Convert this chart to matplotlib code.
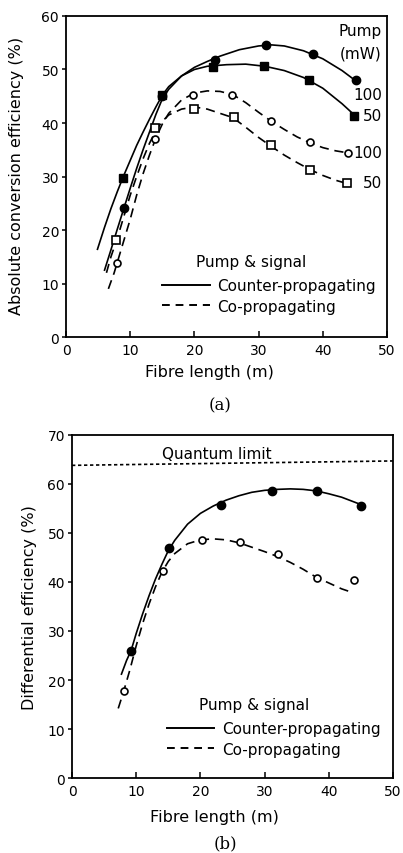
import numpy as np
import matplotlib.pyplot as plt
from matplotlib.lines import Line2D

plt.rcParams['font.family'] = ['DejaVu Sans']

# ---------- panel (a): absolute conversion efficiency ----------
# measured points
cnt100_x = [9.0, 15.0, 23.2, 31.1, 38.4, 45.1]
cnt100_y = [24.1, 45.0, 51.8, 54.6, 52.9, 48.0]
cnt50_x = [8.9, 15.0, 22.9, 30.8, 37.9, 44.9]
cnt50_y = [29.7, 45.3, 50.4, 50.6, 48.1, 41.4]
co100_x = [7.9, 13.9, 19.8, 25.9, 32.0, 38.0, 43.9]
co100_y = [13.8, 37.1, 45.3, 45.2, 40.3, 36.4, 34.4]
co50_x = [7.8, 13.9, 19.9, 26.1, 31.9, 38.0, 43.7]
co50_y = [18.1, 39.0, 42.6, 41.1, 35.8, 31.3, 28.7]

# fitted curves
fit_cnt100_x = [6.0, 7, 8, 9, 10, 11, 12, 13, 14, 15, 16, 18, 20, 22, 24, 27, 30, 32, 34, 37, 40, 43, 45]
fit_cnt100_y = [12.5, 16.3, 20.2, 24.0, 27.8, 31.5, 35.0, 38.3, 41.6, 44.5, 46.3, 48.8, 50.4, 51.5, 52.5,
                53.7, 54.4, 54.6, 54.4, 53.5, 52.0, 49.8, 48.0]
fit_cnt50_x = [4.9, 6, 7, 8, 9, 10, 11, 12, 13, 14, 15, 16, 18, 20, 22, 25, 28, 31, 34, 37, 40, 43, 45]
fit_cnt50_y = [16.4, 20.5, 24.0, 27.2, 30.2, 33.0, 35.8, 38.3, 40.7, 43.0, 45.2, 46.8, 48.8, 50.0, 50.6,
               50.9, 51.0, 50.6, 49.8, 48.5, 46.5, 43.6, 41.4]
fit_co100_x = [6.6, 7.5, 8.5, 10, 11, 12, 13, 14, 15, 16, 18, 20, 22, 24, 26, 28, 30, 32, 34, 36, 38, 40, 42, 44]
fit_co100_y = [9.0, 12.0, 16.0, 22.0, 26.5, 30.5, 34.0, 37.2, 39.8, 41.8, 44.3, 45.6, 46.0, 45.9, 45.3,
               43.8, 42.0, 40.3, 38.8, 37.4, 36.3, 35.4, 34.8, 34.4]
fit_co50_x = [6.3, 7, 8, 9, 10, 11, 12, 13, 14, 15, 16, 18, 20, 22, 24, 26, 28, 30, 32, 34, 36, 38, 40, 42, 44]
fit_co50_y = [12.0, 15.0, 18.5, 22.5, 26.5, 30.0, 33.3, 36.2, 38.6, 40.3, 41.5, 42.6, 43.0, 42.6, 41.8,
              41.0, 39.2, 37.3, 35.6, 34.0, 32.6, 31.3, 30.2, 29.3, 28.6]

# pump power labels on the right: (text, y)
pump_labels = [("100", 45.4), ("50", 41.4), ("100", 34.4), ("50", 28.8)]

# ---------- panel (b): differential efficiency ----------
dcnt_x = [9.2, 15.1, 23.2, 31.2, 38.2, 45.0]
dcnt_y = [25.9, 46.9, 55.8, 58.6, 58.6, 55.6]
dco_x = [8.1, 14.1, 20.2, 26.2, 32.1, 38.2, 44.0]
dco_y = [17.8, 42.2, 48.6, 48.2, 45.8, 40.8, 40.4]

fit_dcnt_x = [7.7, 8.5, 9.2, 10, 11, 12, 13, 14, 15, 16, 18, 20, 22, 24, 26, 28, 30, 32, 34, 36, 38, 40, 42, 44, 45]
fit_dcnt_y = [21.2, 24.0, 26.0, 29.5, 33.5, 37.2, 40.6, 43.6, 46.4, 48.5, 51.8, 54.0, 55.5, 56.7, 57.6,
              58.3, 58.7, 58.9, 59.0, 58.9, 58.6, 58.0, 57.3, 56.3, 55.8]
fit_dco_x = [7.2, 8, 9, 10, 11, 12, 13, 14, 15, 16, 18, 20, 22, 24, 26, 28, 30, 32, 34, 36, 38, 40, 42, 43.8]
fit_dco_y = [14.2, 17.5, 22.0, 27.0, 31.5, 35.5, 39.0, 42.0, 44.2, 45.8, 47.8, 48.6, 48.8, 48.6, 48.0,
             47.1, 46.2, 45.2, 44.0, 42.6, 41.0, 39.8, 38.6, 37.8]

quantum_x = [0, 50]
quantum_y = [63.8, 64.7]

DASH = (0, (5.5, 3.5))
TICKFS = 10
LABFS = 11.5


def style_axes(ax, ymax):
    ax.set_xlim(0, 50)
    ax.set_ylim(0, ymax)
    ax.set_xticks(range(0, 51, 10))
    ax.set_yticks(range(0, ymax + 1, 10))
    ax.tick_params(axis='x', direction='in', length=4, width=1.1, labelsize=TICKFS, pad=4)
    ax.tick_params(axis='y', direction='out', length=3, width=1.1, labelsize=TICKFS, pad=2)
    for s in ax.spines.values():
        s.set_linewidth(1.3)


def add_legend(ax, x, y, title_dx, title_dy):
    handles = [Line2D([], [], color='black', lw=1.4),
               Line2D([], [], color='black', lw=1.4, linestyle=(0, (4, 3)))]
    leg = ax.legend(handles, ["Counter-propagating", "Co-propagating"], loc='upper left',
                    bbox_to_anchor=(x, y), frameon=False, fontsize=11, borderpad=0,
                    borderaxespad=0, handlelength=3.1, handletextpad=0.5, labelspacing=0.35)
    ax.text(x + title_dx, y + title_dy, "Pump & signal", transform=ax.transAxes,
            fontsize=11, va='top')
    return leg


fig = plt.figure(figsize=(4.03, 8.54), dpi=100)

# panel (a)
ax1 = fig.add_axes([0.1638, 0.6042, 0.7965, 0.3759])
style_axes(ax1, 60)
ax1.plot(fit_cnt100_x, fit_cnt100_y, color='black', lw=1.2)
ax1.plot(fit_cnt50_x, fit_cnt50_y, color='black', lw=1.2)
ax1.plot(fit_co100_x, fit_co100_y, color='black', lw=1.2, linestyle=DASH)
ax1.plot(fit_co50_x, fit_co50_y, color='black', lw=1.2, linestyle=DASH)
ax1.plot(cnt100_x, cnt100_y, 'o', color='black', ms=6)
ax1.plot(cnt50_x, cnt50_y, 's', color='black', ms=6)
ax1.plot(co100_x, co100_y, 'o', mfc='white', mec='black', mew=1.2, ms=5)
ax1.plot(co50_x, co50_y, 's', mfc='white', mec='black', mew=1.2, ms=5.5)

ax1.text(49.2, 57.3, "Pump", ha='right', va='center', fontsize=11)
ax1.text(49.2, 53.1, "(mW)", ha='right', va='center', fontsize=11)
for txt, yy in pump_labels:
    ax1.text(49.3, yy, txt, ha='right', va='center', fontsize=11)

ax1.set_ylabel("Absolute conversion efficiency (%)", fontsize=LABFS)
ax1.yaxis.set_label_coords(-0.13, 0.505)
ax1.set_xlabel("Fibre length (m)", fontsize=LABFS)
ax1.xaxis.set_label_coords(0.447, -0.085)
add_legend(ax1, 0.30, 0.183, 0.105, 0.075)

# panel (b)
ax2 = fig.add_axes([0.1787, 0.0878, 0.7965, 0.4017])
style_axes(ax2, 70)
ax2.plot(quantum_x, quantum_y, color='black', lw=1.2, linestyle=(0, (2, 1.6)))
ax2.text(22.6, 66.2, "Quantum limit", ha='center', va='center', fontsize=11)
ax2.plot(fit_dcnt_x, fit_dcnt_y, color='black', lw=1.2)
ax2.plot(fit_dco_x, fit_dco_y, color='black', lw=1.2, linestyle=DASH)
ax2.plot(dcnt_x, dcnt_y, 'o', color='black', ms=6)
ax2.plot(dco_x, dco_y, 'o', mfc='white', mec='black', mew=1.2, ms=5)

ax2.set_ylabel("Differential efficiency (%)", fontsize=LABFS)
ax2.yaxis.set_label_coords(-0.11, 0.5)
ax2.set_xlabel("Fibre length (m)", fontsize=LABFS)
ax2.xaxis.set_label_coords(0.445, -0.09)
add_legend(ax2, 0.295, 0.165, 0.10, 0.07)

fig.text(220 / 403, 1 - 406 / 854, "(a)", ha='center', va='center', fontsize=12, family='DejaVu Serif')
fig.text(225 / 403, 1 - 844 / 854, "(b)", ha='center', va='center', fontsize=12, family='DejaVu Serif')

fig.savefig("out.png", dpi=100)
